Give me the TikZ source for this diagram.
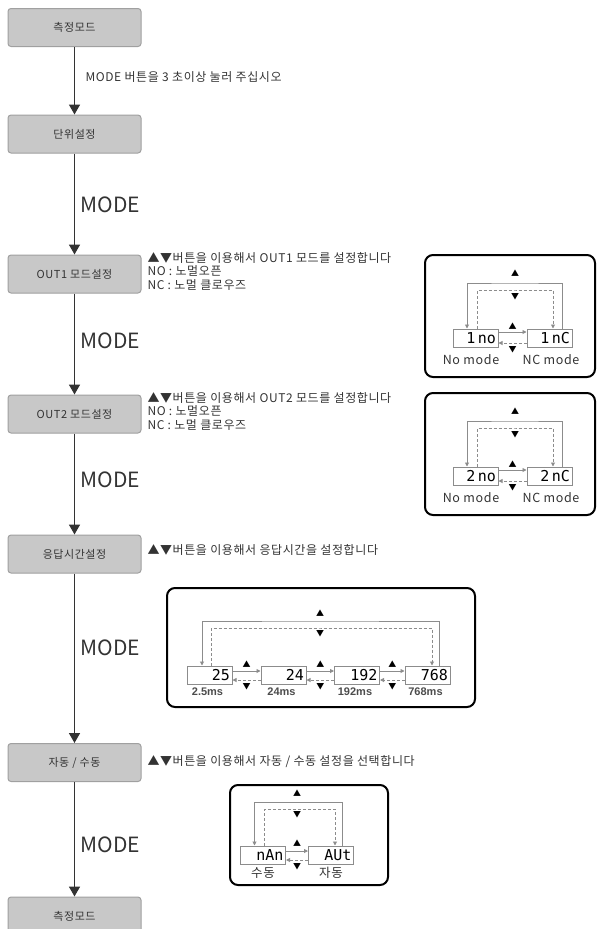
\documentclass[tikz,border=0pt]{standalone}
\usepackage{fontspec}
\setmainfont{Noto Sans CJK KR}
\newfontfamily\widefont{Noto Sans CJK KR}[LetterSpace=5]
\newfontfamily\segfont{DejaVu Sans Mono}
\newfontfamily\tagfont{Liberation Sans}
\usetikzlibrary{arrows.meta, positioning, calc}
\definecolor{cbox}{HTML}{C8C8C8}
\definecolor{cedge}{HTML}{A0A0A0}
\definecolor{cink}{HTML}{333333}
\definecolor{cloop}{HTML}{8C8C8C}
\tikzset{
  every picture/.style={line width=1pt},
  stepbox/.style={draw=cedge, fill=cbox, rounded corners=3pt, minimum width=133pt, minimum height=38pt, font=\widefont\fontsize{11}{13}\selectfont, text=cink},
  flow/.style={-{Triangle[length=10pt, width=11pt]}, draw=cink, line width=1.6pt},
  modetag/.style={anchor=west, font=\fontsize{21}{24}\selectfont, text=cink, inner sep=0pt},
  note/.style={anchor=west, align=left, font=\widefont\fontsize{12}{13.5}\selectfont, text=cink, inner sep=0pt},
  panel/.style={draw=black, line width=2pt, rounded corners=8pt},
  lcd/.style={draw=cloop, fill=white, minimum width=45pt, minimum height=18pt, inner sep=1pt, text width=41pt, align=right, font=\segfont\fontsize{15}{15}\selectfont},
  loopline/.style={draw=cloop, line width=0.9pt, -{Triangle[length=4pt, width=4pt]}},
  loopdash/.style={loopline, densely dashed},
  key/.style={font=\fontsize{8}{8}\selectfont, inner sep=0pt},
  caption/.style={font=\widefont\fontsize{12.5}{13}\selectfont, text=cink, inner sep=0pt},
  mstag/.style={font=\tagfont\bfseries\fontsize{11}{12}\selectfont, text=black!70, inner sep=0pt},
}

\begin{document}
\begin{tikzpicture}[x=1pt, y=-1pt]
  \useasboundingbox (0,0) rectangle (597,929);
  \clip (0,0) rectangle (597,929);
  \foreach \n/\y/\t in {meas/27.5/측정모드, unit/134/단위설정, outa/274/OUT1 모드설정, outb/414/OUT2 모드설정,
      resp/554/응답시간설정, auto/762.5/{자동 / 수동}, back/916/측정모드}
    \node[stepbox] (\n) at (74.5,\y) {\t};
  \foreach \a/\b in {meas/unit, unit/outa, outa/outb, outb/resp, resp/auto, auto/back}
    \draw[flow] (\a) -- (\b);
  \foreach \y [count=\i] in {205, 341, 480, 648, 845}
    \node[modetag] (mode\i) at (80,\y) {MODE};
  % notes
  \node[note] (hold) at (85,77) {MODE 버튼을 3 초이상 눌러 주십시오};
  \node[note] (notea) at (147,271) {▲▼버튼을 이용해서 OUT1 모드를 설정합니다\\NO : 노멀오픈\\NC : 노멀 클로우즈};
  \node[note] (noteb) at (147,411) {▲▼버튼을 이용해서 OUT2 모드를 설정합니다\\NO : 노멀오픈\\NC : 노멀 클로우즈};
  \node[note] (notec) at (147,550) {▲▼버튼을 이용해서 응답시간을 설정합니다};
  \node[note] (noted) at (147,762) {▲▼버튼을 이용해서 자동 / 수동 설정을 선택합니다};
  % output mode panels
  \foreach \i/\dy in {1/0, 2/138} {
    \begin{scope}[shift={(0,\dy)}]
      \draw[panel] (425,255) rectangle (595,377);
      \node[lcd] (no\i) at (475.5,338) {\i\,no};
      \node[lcd] (nc\i) at (549.5,338) {\i\,nC};
      \node[caption] (nocap\i) at (471,360) {No mode};
      \node[caption] (nccap\i) at (551,360) {NC mode};
      \coordinate (top\i) at (515,283);
      \coordinate (low\i) at (515,290);
      \draw[loopline] ([xshift=12.5]nc\i.north) |- (top\i) -| ([xshift=-8.5]no\i.north);
      \draw[loopdash] ([xshift=1.5]no\i.north) |- (low\i) -| ([xshift=3.5]nc\i.north);
      \node[key] at (515,273) {▲};
      \node[key] at (515,297) {▼};
      \draw[loopline] ([yshift=6]no\i.east) -- ([yshift=6]nc\i.west);
      \draw[loopdash] ([yshift=-5]nc\i.west) -- ([yshift=-5]no\i.east);
      \path (no\i.east) -- node[key, yshift=12] {▲} node[key, yshift=-12] {▼} (nc\i.west);
    \end{scope}
  }
  % response time panel
  \draw[panel] (167,588) rectangle (475,707);
  \foreach \x/\v/\c [count=\i] in {209.5/25/2.5ms, 283.5/24/24ms, 357/192/192ms, 427.5/768/768ms} {
    \node[lcd] (rt\i) at (\x,675) {\v};
    \node[mstag] (rtcap\i) at (\x-2,692) {\c};
  }
  \draw[loopline] ([xshift=11.5]rt4.north) |- (320,621) -| ([xshift=-7.5]rt1.north);
  \draw[loopdash] ([xshift=1.5]rt1.north) |- (320,628) -| ([xshift=4.5]rt4.north);
  \node[key] at (320,613) {▲};
  \node[key] at (320,634) {▼};
  \foreach \a/\b in {rt1/rt2, rt2/rt3, rt3/rt4} {
    \draw[loopline] ([yshift=4]\a.east) -- ([yshift=4]\b.west);
    \draw[loopdash] ([yshift=-5]\b.west) -- ([yshift=-5]\a.east);
    \path (\a.east) -- node[key, yshift=11] {▲} node[key, yshift=-12] {▼} (\b.west);
  }
  % auto / manual panel
  \draw[panel] (230,785) rectangle (388,885);
  \node[lcd] (man) at (263,855) {nAn};
  \node[lcd] (aut) at (331,855) {AUt};
  \node[caption] (mancap) at (263,873) {수동};
  \node[caption] (autcap) at (331,873) {자동};
  \draw[loopline] ([xshift=11.5]aut.north) |- (297,802) -| ([xshift=-8.5]man.north);
  \draw[loopdash] ([xshift=1.5]man.north) |- (297,809) -| ([xshift=4]aut.north);
  \node[key] at (297,793) {▲};
  \node[key] at (297,815) {▼};
  \draw[loopline] ([yshift=4]man.east) -- ([yshift=4]aut.west);
  \draw[loopdash] ([yshift=-5]aut.west) -- ([yshift=-5]man.east);
  \path (man.east) -- node[key, yshift=12] {▲} node[key, yshift=-12] {▼} (aut.west);
\end{tikzpicture}
\end{document}
